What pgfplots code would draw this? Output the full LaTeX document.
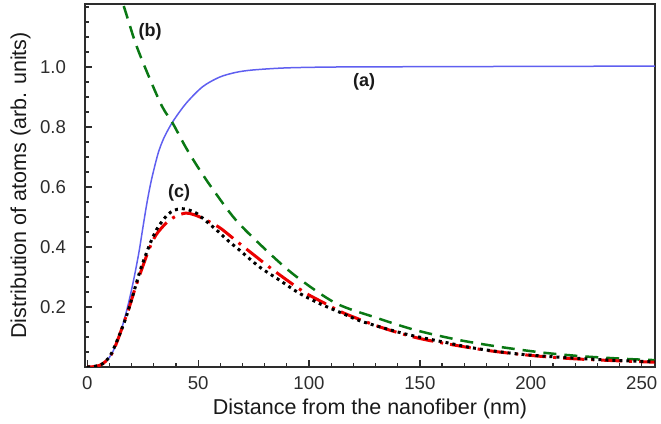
\documentclass[border=0pt]{standalone}
\usepackage{pgfplots}
\pgfplotsset{compat=1.18}
\usepackage{fontspec}
\setmainfont{Liberation Sans}
\definecolor{cblue}{RGB}{95,95,240}
\definecolor{cgreen}{RGB}{10,120,20}
\definecolor{cred}{RGB}{235,0,0}
\definecolor{axgray}{RGB}{45,45,45}
\begin{document}
\begin{tikzpicture}
\begin{axis}[
  scale only axis,
  width=285pt, height=181.5pt,
  xmin=-1, xmax=256, ymin=0, ymax=1.21,
  axis line style={axgray, line width=0.8pt},
  tick style={axgray, line width=0.6pt},
  tick align=inside,
  xtick pos=left, ytick pos=left,
  xtick={0,50,100,150,200,250},
  minor xtick={10,20,30,40,60,70,80,90,110,120,130,140,160,170,180,190,210,220,230,240},
  ytick={0.2,0.4,0.6,0.8,1.0},
  minor ytick={0.05,0.1,0.15,0.25,0.3,0.35,0.45,0.5,0.55,0.65,0.7,0.75,0.85,0.9,0.95,1.05,1.1,1.15,1.2},
  major tick length=3.5pt, minor tick length=2.2pt,
  /pgf/number format/assume math mode=true,
  yticklabel style={/pgf/number format/fixed, /pgf/number format/fixed zerofill, /pgf/number format/precision=1, font=\fontsize{9.3}{11}\selectfont, text=axgray, xshift=-6pt},
  xticklabel style={font=\fontsize{9.3}{11}\selectfont, text=axgray, yshift=-1pt},
  xlabel={Distance from the nanofiber (nm)},
  ylabel={Distribution of atoms (arb. units)},
  xlabel style={at={(axis description cs:0.5,-0.1322)}, anchor=base, font=\fontsize{10.75}{13}\selectfont, text=black!90},
  ylabel style={at={(axis description cs:-0.1035,0.5)}, anchor=base, rotate=0, font=\fontsize{10.75}{13}\selectfont, text=black!90},
  clip=true,
]
% (a) blue solid
\addplot[cblue, line width=0.75pt, smooth] coordinates {
(0,0) (3,0.001) (6,0.007) (8,0.017) (10,0.032) (12,0.058) (14.5,0.105) (16,0.14)
(17.5,0.18) (19,0.225) (20.5,0.275) (22,0.33) (23.5,0.39) (25,0.46) (27,0.55)
(29,0.625) (31.5,0.70) (33,0.735) (35,0.77) (38.6,0.818) (44.6,0.879) (52,0.934)
(59.6,0.966) (67,0.982) (74.6,0.99) (89.6,0.997) (112,1.0) (150,1.001) (200,1.002) (256,1.003)
};
% (b) green dashed
\addplot[cgreen, line width=1.25pt, dash pattern=on 6.5pt off 4pt, smooth] coordinates {
(5,1.47) (10,1.34) (16.3,1.207) (21.8,1.079) (27.8,0.968) (33.8,0.868) (38.6,0.812)
(44.3,0.734) (50,0.665) (56.3,0.596) (67,0.49) (80.6,0.39) (94,0.303) (112,0.213)
(130,0.165) (148,0.123) (167.6,0.09) (187,0.066) (206.6,0.047) (224.6,0.035)
(245.5,0.026) (256,0.023)
};
% red dash-dot
\addplot[cred, line width=1.5pt, dash pattern=on 10.5pt off 3.5pt on 1.5pt off 3.5pt, smooth] coordinates {
(0,0) (4,0.002) (7,0.011) (10,0.032) (12,0.058) (14.5,0.105) (17,0.158) (19,0.2)
(21,0.248) (23.5,0.303) (26,0.355) (28,0.395) (31,0.44) (35.5,0.479) (40,0.503)
(44.5,0.513) (48,0.508) (52,0.496) (57.6,0.474) (61.1,0.457) (68.6,0.412)
(76.1,0.368) (82.8,0.329) (91.1,0.284) (98.6,0.246) (107.7,0.21) (115,0.182)
(125.5,0.151) (134.6,0.127) (148.2,0.098) (163.2,0.076) (182.6,0.053)
(202.3,0.037) (220.3,0.027) (241.3,0.02) (256,0.016)
};
% black dotted
\addplot[black, line width=1.5pt, dash pattern=on 1.5pt off 2pt, smooth] coordinates {
(0,0) (4,0.003) (7,0.011) (9.3,0.027) (11,0.046) (13.2,0.083) (15.5,0.125) (17.7,0.17)
(20,0.225) (22,0.275) (24,0.325) (25.9,0.364) (27.8,0.401) (29.6,0.433) (32,0.467)
(35.9,0.505) (39,0.522) (42.6,0.528) (46,0.523) (49.4,0.512) (53,0.49) (57,0.465)
(59.6,0.448) (64,0.418) (68.6,0.39) (77.6,0.334) (86.6,0.29) (95.6,0.246)
(104.6,0.212) (115,0.179) (122.6,0.155) (134.6,0.128) (145.2,0.107) (160.2,0.084)
(175.2,0.062) (194.7,0.043) (214.3,0.032) (235.3,0.023) (256,0.017)
};
\node[font=\fontsize{9}{11}\selectfont\bfseries, text=black!90] at (axis cs:124.8,0.95) {(a)};
\node[font=\fontsize{9}{11}\selectfont\bfseries, text=black!90] at (axis cs:28.4,1.117) {(b)};
\node[font=\fontsize{9}{11}\selectfont\bfseries, text=black!90] at (axis cs:41.4,0.58) {(c)};
\end{axis}
\pgfresetboundingbox
\path (-42.5pt,-28.5pt) rectangle (288pt,183.5pt);
\end{tikzpicture}
\end{document}
